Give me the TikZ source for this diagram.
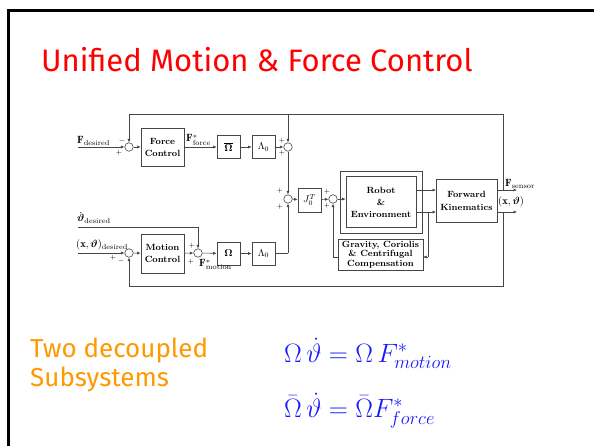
\RequirePackage{fix-cm}
\documentclass[tikz,border=0pt]{standalone}
\usepackage{amsmath,amssymb}
\usepackage{fontspec}
\newfontfamily\slidefont{Fira Sans}
\usetikzlibrary{arrows.meta}
\definecolor{titlered}{RGB}{255,0,0}
\definecolor{suborange}{RGB}{255,153,0}
\definecolor{eqblue}{RGB}{25,25,255}
\definecolor{dline}{RGB}{70,70,70}
\begin{document}
\begin{tikzpicture}[x=1pt,y=-1pt,
  ln/.style={draw=dline, line width=0.6pt},
  arr/.style={ln, -{Latex[length=3.5pt,width=3pt]}},
  blk/.style={draw=dline, line width=0.6pt, fill=white, inner sep=0pt, align=center,
     font=\fontsize{9}{12}\selectfont\bfseries},
  sumn/.style={draw=dline, line width=0.6pt, circle, minimum size=8.5pt, inner sep=0pt},
  sgn/.style={inner sep=0pt, font=\fontsize{7}{7}\selectfont},
  lbl/.style={inner sep=0pt, font=\fontsize{10.5}{12}\selectfont}]
\useasboundingbox (0,0) rectangle (594,446);
\fill[white] (0,0) rectangle (594,446);
\draw[line width=3pt] (8.5,446) -- (8.5,11) -- (594,11);

% texts of the slide
\node[anchor=base west, inner sep=0pt, text=titlered, font=\slidefont\fontsize{31}{31}\selectfont] (title) at (41,72) {Unified Motion \& Force Control};
\node[anchor=base west, inner sep=0pt, text=suborange, font=\slidefont\fontsize{26}{26}\selectfont] (two) at (30,357) {Two decoupled};
\node[anchor=base west, inner sep=0pt, text=suborange, font=\slidefont\fontsize{26}{26}\selectfont] (subs) at (30,386) {Subsystems};
\node[anchor=base west, inner sep=0pt, text=eqblue, font=\fontsize{26.5}{27}\selectfont] (eq1) at (284,362) {$\Omega\,\dot{\vartheta} =\Omega\,F^{*}_{motion}$};
\node[anchor=base west, inner sep=0pt, text=eqblue, font=\fontsize{26.5}{27}\selectfont] (eq2) at (284,417) {$\bar{\Omega}\,\dot{\vartheta} = \bar{\Omega}F^{*}_{force}$};

% summing junctions
\node[sumn] (s1) at (129,147) {};
\node[sumn] (s2) at (288,147) {};
\node[sumn] (s3) at (288,199) {};
\node[sumn] (s4) at (333,199) {};
\node[sumn] (s5) at (129,253) {};
\node[sumn] (s6) at (198,253) {};

% blocks
\node[blk, minimum width=43pt, minimum height=38pt] (fc) at (162.5,147) {Force\\Control};
\node[blk, minimum width=23pt, minimum height=23pt, font=\fontsize{10}{12}\selectfont] (ob) at (228.5,147) {$\boldsymbol{\overline{\Omega}}$};
\node[blk, minimum width=23pt, minimum height=23pt, font=\fontsize{10}{12}\selectfont] (l1) at (263.5,147) {$\Lambda_0$};
\node[blk, minimum width=23pt, minimum height=24pt, font=\fontsize{10}{12}\selectfont] (jt) at (309.5,200) {$J_0^T$};
\node[blk, minimum width=82pt, minimum height=62pt] (ro) at (381,202) {};
\node[blk, minimum width=70pt, minimum height=51pt] (ri) at (381,202) {Robot\\\&\\Environment};
\node[blk, minimum width=61pt, minimum height=43pt, font=\fontsize{9}{13}\selectfont\bfseries] (fk) at (466.5,201) {Forward\\Kinematics};
\node[blk, minimum width=85pt, minimum height=31pt, font=\fontsize{9}{9.5}\selectfont\bfseries] (gc) at (380.5,254.5) {Gravity, Coriolis\\\& Centrifugal\\Compensation};
\node[blk, minimum width=43pt, minimum height=39pt] (mc) at (162.5,253.5) {Motion\\Control};
\node[blk, minimum width=23pt, minimum height=23pt, font=\fontsize{10}{12}\selectfont] (om) at (228.5,253.5) {$\boldsymbol{\Omega}$};
\node[blk, minimum width=23pt, minimum height=23pt, font=\fontsize{10}{12}\selectfont] (l2) at (263.5,253.5) {$\Lambda_0$};

% coordinates
\coordinate (fin) at (78,147);
\coordinate (xin) at (78,253);
\coordinate (vin) at (78,227);
\coordinate (vc) at (198,227);
\coordinate (ttop) at (288,114);
\coordinate (tl) at (129,114);
\coordinate (tr) at (503,114);
\coordinate (br) at (503,286);
\coordinate (bl) at (129,286);
\coordinate (fku) at (497,190);
\coordinate (fkd) at (497,212);
\coordinate (ou) at (517,190);
\coordinate (od) at (517,212);
\coordinate (tu) at (503,190);
\coordinate (td) at (503,212);
\coordinate (riu) at (416,190);
\coordinate (rid) at (416,212);
\coordinate (fkiu) at (436,190);
\coordinate (fkid) at (436,212);
\coordinate (br1) at (428,212);
\coordinate (br2) at (428,257);
\coordinate (gce) at (423,257);
\coordinate (gcw) at (338,257);
\coordinate (g4) at (333,257);
\coordinate (l2c) at (288,253.5);

% force loop
\draw[arr] (fin) -- (s1);
\draw[arr] (s1) -- (fc);
\draw[arr] (fc) -- (ob);
\draw[arr] (ob) -- (l1);
\draw[arr] (l1) -- (s2);
\draw[arr] (s2) -- (s3);
\draw[arr] (s3) -- (jt);
\draw[arr] (jt) -- (s4);
\draw[arr] (s4) -- (ri.west |- s4);
\draw[arr] (riu) -- (fkiu);
\draw[arr] (rid) -- (fkid);
\draw[arr] (fku) -- (ou);
\draw[arr] (fkd) -- (od);
\draw[ln] (br1) -- (br2);
\draw[arr] (br2) -- (gce);
\draw[arr] (gcw) -- (g4) -- (s4);
\draw[ln] (tu) -- (tr) -- (tl);
\draw[arr] (tl) -- (s1);
\draw[arr] (ttop) -- (s2);
\draw[ln] (td) -- (br) -- (bl);
\draw[arr] (bl) -- (s5);

% motion loop
\draw[arr] (xin) -- (s5);
\draw[arr] (s5) -- (mc);
\draw[arr] (mc) -- (s6);
\draw[arr] (s6) -- (om);
\draw[arr] (om) -- (l2);
\draw[ln] (l2) -- (l2c);
\draw[arr] (l2c) -- (s3);
\draw[ln] (vin) -- (vc);
\draw[arr] (vc) -- (s6);

% signs
\node[sgn] (m1) at (122,141) {$-$};
\node[sgn] (p1) at (119,153) {$+$};
\node[sgn] (p2a) at (282,141) {$+$};
\node[sgn] (p2b) at (282,153) {$+$};
\node[sgn] (p3a) at (280,191) {$+$};
\node[sgn] (p3b) at (280,207) {$+$};
\node[sgn] (p4a) at (327,192) {$+$};
\node[sgn] (p4b) at (327,206) {$+$};
\node[sgn] (p5) at (113,258) {$+$};
\node[sgn] (m5) at (121,261) {$-$};
\node[sgn] (p6a) at (192,246) {$+$};
\node[sgn] (p6b) at (191,262) {$+$};

% signal labels
\node[lbl, anchor=base west] (lfd) at (77,144) {$\mathbf{F}_{\mathrm{desired}}$};
\node[lbl, anchor=base west] (lff) at (186,142) {$\mathbf{F}^{*}_{\mathrm{force}}$};
\node[lbl, anchor=base west] (lvd) at (77,222) {$\dot{\boldsymbol{\vartheta}}_{\mathrm{desired}}$};
\node[lbl, anchor=base west] (lxd) at (76,248) {$(\mathbf{x},\boldsymbol{\vartheta})_{\mathrm{desired}}$};
\node[lbl, anchor=base west] (lfm) at (199,267) {$\mathbf{F}^{*}_{\mathrm{motion}}$};
\node[lbl, anchor=base west] (lfs) at (505,187) {$\mathbf{F}_{\mathrm{sensor}}$};
\node[lbl, anchor=base west] (lxo) at (498,205) {$(\mathbf{x},\boldsymbol{\vartheta})$};
\end{tikzpicture}
\end{document}
